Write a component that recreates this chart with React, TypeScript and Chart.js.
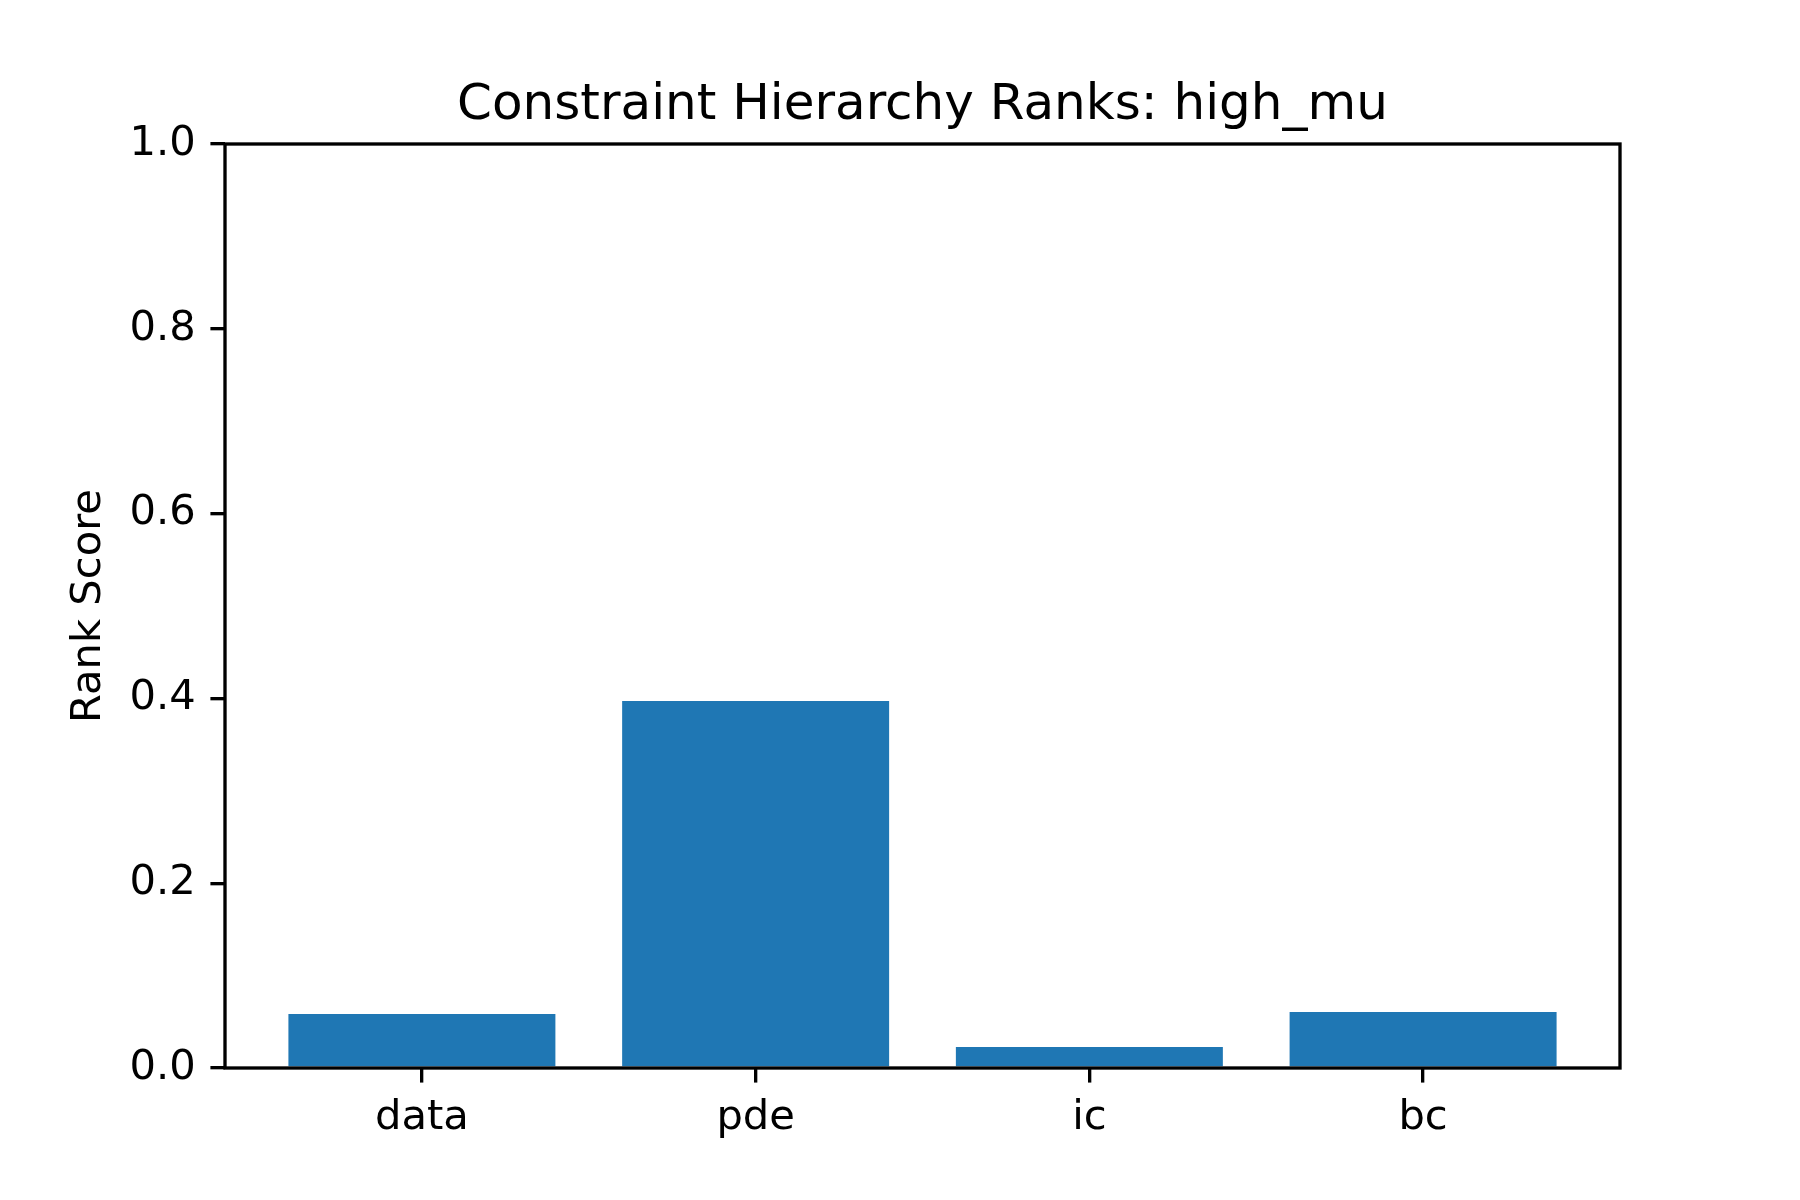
import React, { useEffect, useRef } from "react";
import { Chart, registerables } from "chart.js";

Chart.register(...registerables);

const categories = ["data", "pde", "ic", "bc"];
const rankScores = [0.0584, 0.3972, 0.0227, 0.0606];
const yTicks = [0, 0.2, 0.4, 0.6, 0.8, 1.0];
const chartTitle = "Constraint Hierarchy Ranks: high_mu";
const yLabel = "Rank Score";

const PT = 300 / 72;
const FONT = "'DejaVu Sans', sans-serif";

const framePlugin = {
  id: "framePlugin",
  afterDatasetsDraw(chart: any) {
    const { ctx, chartArea } = chart;
    ctx.save();
    ctx.strokeStyle = "#000";
    ctx.lineWidth = 0.8 * PT;
    ctx.lineJoin = "miter";
    ctx.strokeRect(
      chartArea.left,
      chartArea.top,
      chartArea.right - chartArea.left,
      chartArea.bottom - chartArea.top
    );
    ctx.restore();
  },
  afterDraw(chart: any) {
    const { ctx, chartArea } = chart;
    ctx.save();
    ctx.fillStyle = "#000";
    ctx.font = `${12 * PT}px ${FONT}`;
    ctx.textAlign = "center";
    ctx.textBaseline = "alphabetic";
    ctx.fillText(chartTitle, (chartArea.left + chartArea.right) / 2, chartArea.top - 6 * PT);
    ctx.font = `${10 * PT}px ${FONT}`;
    ctx.translate(89, (chartArea.top + chartArea.bottom) / 2);
    ctx.rotate(-Math.PI / 2);
    ctx.textBaseline = "middle";
    ctx.fillText(yLabel, 0, 0);
    ctx.restore();
  },
};

export default function App() {
  const ref = useRef<HTMLCanvasElement | null>(null);
  useEffect(() => {
    if (!ref.current) return;
    const chart = new Chart(ref.current, {
      type: "bar",
      data: {
        datasets: [
          {
            data: rankScores.map((v, i) => ({ x: i, y: v })),
            backgroundColor: "#1f77b4",
            borderWidth: 0,
            barPercentage: 0.8,
            categoryPercentage: 1.0,
          },
        ],
      },
      options: {
        animation: false,
        responsive: false,
        devicePixelRatio: 1,
        layout: { padding: { top: 144, right: 180, left: 0, bottom: 0 } },
        plugins: { legend: { display: false }, tooltip: { enabled: false }, title: { display: false } },
        scales: {
          x: {
            type: "linear",
            offset: false,
            min: -0.59,
            max: 3.59,
            afterBuildTicks: (scale: any) => {
              scale.ticks = categories.map((_, i) => ({ value: i }));
            },
            afterFit: (scale: any) => {
              scale.height = 132;
            },
            ticks: {
              callback: (v: any) => categories[Math.round(Number(v))] ?? "",
              color: "#000",
              font: { family: FONT, size: 10 * PT },
              padding: 3.5 * PT - 4,
              maxRotation: 0,
              autoSkip: false,
            },
            grid: {
              drawOnChartArea: false,
              drawTicks: true,
              tickLength: 3.5 * PT,
              lineWidth: 0.8 * PT,
              color: "#000",
              offset: false,
            },
            border: { display: false },
          },
          y: {
            type: "linear",
            min: 0,
            max: 1,
            afterBuildTicks: (scale: any) => {
              scale.ticks = yTicks.map((v) => ({ value: v }));
            },
            afterFit: (scale: any) => {
              scale.width = 225;
            },
            ticks: {
              callback: (v: any) => Number(v).toFixed(1),
              color: "#000",
              font: { family: FONT, size: 10 * PT },
              padding: 3.5 * PT,
              autoSkip: false,
            },
            grid: {
              drawOnChartArea: false,
              drawTicks: true,
              tickLength: 3.5 * PT,
              lineWidth: 0.8 * PT,
              color: "#000",
            },
            border: { display: false },
          },
        },
      },
      plugins: [framePlugin],
    } as any);
    return () => chart.destroy();
  }, []);
  return (
    <div style={{ position: "absolute", left: 0, top: 0, width: 1800, height: 1200, background: "#fff" }}>
      <canvas ref={ref} width={1800} height={1200} style={{ width: 1800, height: 1200 }} />
    </div>
  );
}
